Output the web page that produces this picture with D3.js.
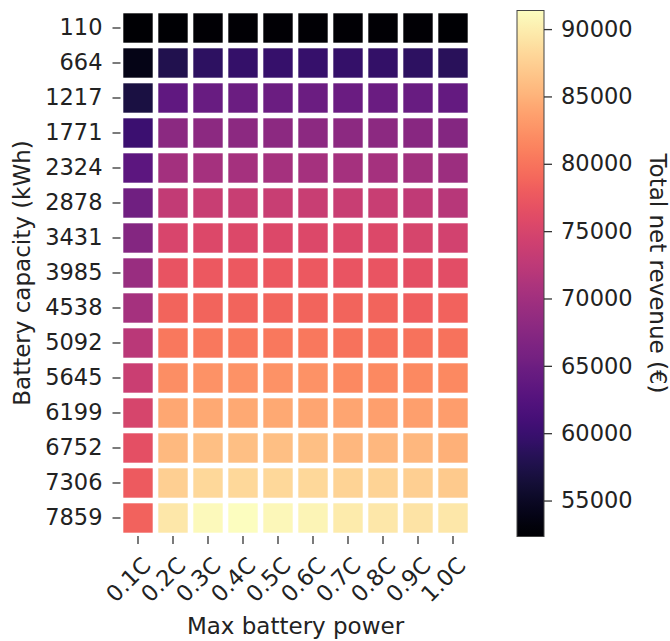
<!DOCTYPE html>
<html>
<head>
<meta charset="utf-8">
<script src="https://cdn.jsdelivr.net/npm/d3@7"></script>
<style>
  html, body { margin: 0; padding: 0; background: #fff; }
  svg text { font-family: "DejaVu Sans", sans-serif; fill: #222; }
</style>
</head>
<body>
<svg id="chart" width="670" height="641"></svg>
<script>
// ---- data ----
const capacities = [110, 664, 1217, 1771, 2324, 2878, 3431, 3985, 4538, 5092, 5645, 6199, 6752, 7306, 7859];
const powers = ["0.1C", "0.2C", "0.3C", "0.4C", "0.5C", "0.6C", "0.7C", "0.8C", "0.9C", "1.0C"];
const rev110  = [52330, 52450, 52520, 52540, 52560, 52560, 52550, 52530, 52500, 52480];
const rev664  = [53890, 57800, 58970, 59550, 59750, 59750, 59550, 59360, 58970, 58580];
const rev1217 = [57020, 63660, 64440, 64830, 64830, 64830, 64640, 64640, 64440, 64050];
const rev1771 = [60140, 67760, 67950, 67950, 67950, 67950, 67950, 67950, 67560, 67170];
const rev2324 = [63260, 70100, 70290, 70290, 70290, 70290, 70290, 70290, 70000, 69510];
const rev2878 = [65220, 73030, 73610, 73610, 73610, 73610, 73610, 73610, 72840, 71860];
const rev3431 = [67170, 75170, 75570, 75570, 75570, 75570, 75570, 75570, 74980, 74590];
const rev3985 = [69120, 76930, 77520, 77520, 77520, 77520, 77130, 77130, 76540, 76150];
const rev4538 = [70290, 78690, 78690, 78690, 78690, 78690, 78690, 78690, 78100, 78500];
const rev5092 = [72250, 80250, 80250, 80250, 80250, 80250, 79860, 79860, 79860, 79860];
const rev5645 = [73810, 82200, 82400, 82400, 82400, 82400, 81620, 81620, 81620, 81620];
const rev6199 = [74980, 84160, 84350, 84350, 84350, 83960, 83960, 83570, 83570, 83380];
const rev6752 = [76540, 85720, 86110, 86110, 86110, 86110, 85520, 85520, 85520, 84940];
const rev7306 = [77710, 87480, 88260, 88260, 88260, 88260, 87870, 87870, 87480, 87090];
const rev7859 = [78490, 89430, 90990, 91380, 90790, 90600, 89820, 89430, 89230, 89430];
const revenueRows = [rev110, rev664, rev1217, rev1771, rev2324, rev2878, rev3431, rev3985,
                     rev4538, rev5092, rev5645, rev6199, rev6752, rev7306, rev7859];
const colorbarTicks = [55000, 60000, 65000, 70000, 75000, 80000, 85000, 90000];
const xTitle = "Max battery power";
const yTitle = "Battery capacity (kWh)";
const cbTitle = "Total net revenue (€)";

// ---- layout ----
const plot = { left: 120.5, right: 470.5, top: 10.5, bottom: 535.5 };
const gap = 5.6;
const cb = { left: 517, right: 544, top: 10.5, bottom: 536.5 };
const tickFont = 22.5, labelFont = 23;

const svg = d3.select("#chart");

const cells = [];
revenueRows.forEach((row, i) => row.forEach((v, j) => cells.push({ cap: capacities[i], pow: powers[j], v })));

const x = d3.scaleBand().domain(powers).range([plot.left, plot.right]).padding(0);
const y = d3.scaleBand().domain(capacities).range([plot.top, plot.bottom]).padding(0);
const ext = d3.extent(cells, d => d.v);
const color = d3.scaleSequential(d3.interpolateMagma).domain(ext);

svg.append("g").selectAll("rect").data(cells).join("rect")
  .attr("x", d => x(d.pow) + gap / 2)
  .attr("y", d => y(d.cap) + gap / 2)
  .attr("width", x.bandwidth() - gap)
  .attr("height", y.bandwidth() - gap)
  .attr("fill", d => color(d.v));

// y axis
const yAxis = svg.append("g").attr("transform", `translate(${plot.left},0)`)
  .call(d3.axisLeft(y).tickSize(8).tickPadding(10));
yAxis.select(".domain").remove();
yAxis.selectAll("line").attr("stroke", "#333").attr("stroke-width", 1.3);
yAxis.selectAll("text").style("font-size", tickFont + "px").attr("fill", "#222");

// x axis
const xAxis = svg.append("g").attr("transform", `translate(0,${plot.bottom + 0.5})`)
  .call(d3.axisBottom(x).tickSize(8));
xAxis.select(".domain").remove();
xAxis.selectAll("line").attr("stroke", "#333").attr("stroke-width", 1.3);
xAxis.selectAll("text")
  .style("font-size", tickFont + "px").attr("fill", "#222")
  .attr("x", 0).attr("y", 0).attr("dy", 0)
  .attr("text-anchor", "end")
  .attr("transform", "translate(14,31) rotate(-45)");

// axis titles
svg.append("text").attr("x", (plot.left + plot.right) / 2).attr("y", 634)
  .attr("text-anchor", "middle").style("font-size", labelFont + "px").text(xTitle);
svg.append("text")
  .attr("transform", `translate(29.5,${(plot.top + plot.bottom) / 2}) rotate(-90)`)
  .attr("text-anchor", "middle").style("font-size", labelFont + "px").text(yTitle);

// colorbar
const defs = svg.append("defs");
const grad = defs.append("linearGradient").attr("id", "cbgrad")
  .attr("x1", 0).attr("y1", 1).attr("x2", 0).attr("y2", 0);
d3.range(0, 1.0001, 0.02).forEach(t => {
  grad.append("stop").attr("offset", t).attr("stop-color", d3.interpolateMagma(t));
});
svg.append("rect").attr("x", cb.left).attr("y", cb.top)
  .attr("width", cb.right - cb.left).attr("height", cb.bottom - cb.top)
  .attr("fill", "url(#cbgrad)").attr("stroke", "#444").attr("stroke-width", 1);

const cbScale = d3.scaleLinear().domain(ext).range([cb.bottom, cb.top]);
const cbAxis = svg.append("g").attr("transform", `translate(${cb.right},0)`)
  .call(d3.axisRight(cbScale).tickValues(colorbarTicks).tickFormat(d3.format("d")).tickSize(8).tickPadding(9));
cbAxis.select(".domain").remove();
cbAxis.selectAll("line").attr("stroke", "#333").attr("stroke-width", 1.3);
cbAxis.selectAll("text").style("font-size", tickFont + "px").attr("fill", "#222");

svg.append("text")
  .attr("transform", `translate(650,${(cb.top + cb.bottom) / 2}) rotate(90)`)
  .attr("text-anchor", "middle").style("font-size", labelFont + "px").text(cbTitle);
</script>
</body>
</html>
